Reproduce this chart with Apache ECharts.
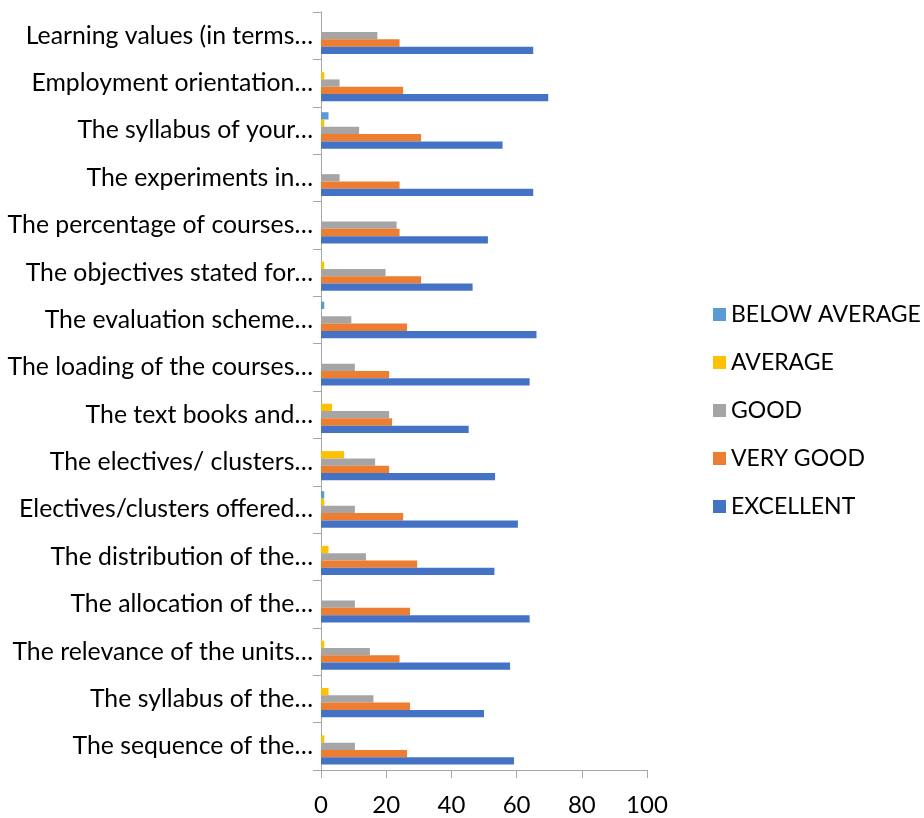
<!DOCTYPE html>
<html>
<head>
<meta charset="utf-8">
<script src="https://cdn.jsdelivr.net/npm/echarts@6/dist/echarts.min.js"></script>
<style>
html,body{margin:0;padding:0;background:#fff;}
#chart{width:924px;height:818px;}
</style>
</head>
<body>
<div id="chart"></div>
<script>
// Categories listed bottom to top (ECharts category axis order)
var categories = [
  'The sequence of the…',
  'The syllabus of the…',
  'The relevance of the units…',
  'The allocation of the…',
  'The distribution of the…',
  'Electives/clusters offered…',
  'The electives/ clusters…',
  'The text books and…',
  'The loading of the courses…',
  'The evaluation scheme…',
  'The objectives stated for…',
  'The percentage of courses…',
  'The experiments in…',
  'The syllabus of your…',
  'Employment orientation…',
  'Learning values (in terms…'
];
var seriesNames = ['BELOW AVERAGE', 'AVERAGE', 'GOOD', 'VERY GOOD', 'EXCELLENT'];
var belowAverage = [0, 0, 0, 0, 0, 1.0, 0, 0, 0, 1.0, 0, 0, 0, 2.3, 0, 0];
var average      = [1.0, 2.3, 1.0, 0, 2.3, 1.0, 7.1, 3.4, 0, 0, 1.0, 0, 0, 1.0, 1.0, 0];
var good         = [10.4, 16.1, 15.0, 10.4, 13.8, 10.4, 16.6, 20.9, 10.4, 9.3, 19.8, 23.2, 5.7, 11.7, 5.7, 17.3];
var veryGood     = [26.4, 27.3, 24.1, 27.3, 29.5, 25.2, 20.9, 21.8, 20.9, 26.4, 30.7, 24.1, 24.1, 30.7, 25.2, 24.1];
var excellent    = [59.2, 50.0, 58.0, 64.0, 53.2, 60.4, 53.4, 45.3, 64.0, 66.1, 46.5, 51.2, 65.1, 55.7, 69.7, 65.1];
var xTicks = [0, 20, 40, 60, 80, 100];

var colors = ['#5B9BD5', '#FFC000', '#A5A5A5', '#ED7D31', '#4472C4'];
var allData = [belowAverage, average, good, veryGood, excellent];
var FONT = 'Lato';

var chart = echarts.init(document.getElementById('chart'), null, {renderer: 'canvas'});
chart.setOption({
  animation: false,
  color: colors,
  textStyle: {fontFamily: FONT},
  grid: {left: 321, right: 277, top: 12, bottom: 48, containLabel: false},
  legend: {
    orient: 'vertical',
    left: 708,
    top: 298,
    itemWidth: 13,
    itemHeight: 13,
    itemGap: 25,
    icon: 'rect',
    data: seriesNames,
    textStyle: {fontFamily: FONT, fontSize: 23, color: '#000', padding: [0, 0, 0, 0]}
  },
  xAxis: {
    type: 'value',
    min: xTicks[0],
    max: xTicks[xTicks.length - 1],
    interval: 20,
    splitLine: {show: false},
    axisLine: {show: true, lineStyle: {color: '#A6A6A6', width: 1}},
    axisTick: {show: true, length: 8, lineStyle: {color: '#A6A6A6'}},
    axisLabel: {fontFamily: FONT, fontSize: 24, color: '#000', margin: 23}
  },
  yAxis: {
    type: 'category',
    data: categories,
    axisLine: {show: true, lineStyle: {color: '#A6A6A6', width: 1}},
    axisTick: {show: true, length: 8, lineStyle: {color: '#A6A6A6'}},
    axisLabel: {fontFamily: FONT, fontSize: 24.8, color: '#000', margin: 8}
  },
  series: seriesNames.map(function (name, i) {
    return {
      name: name,
      type: 'bar',
      data: allData[i],
      barGap: '0%',
      barCategoryGap: '23%',
      itemStyle: {color: colors[i]}
    };
  })
});
</script>
</body>
</html>
